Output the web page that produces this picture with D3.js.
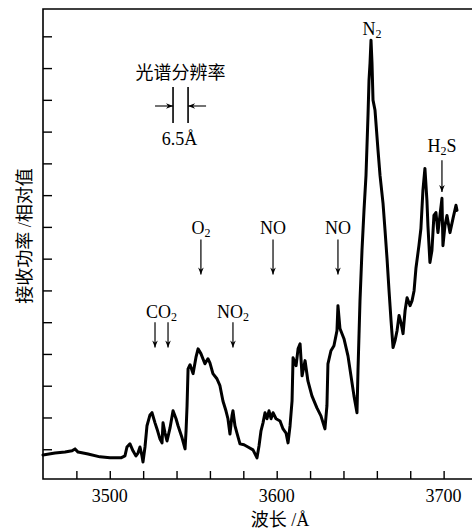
<!DOCTYPE html>
<html>
<head>
<meta charset="utf-8">
<script src="https://cdn.jsdelivr.net/npm/d3@7"></script>
<style>
  body { margin: 0; background: #fff; }
  svg { display: block; font-family: "Liberation Serif", "Noto Sans CJK SC", serif; }
</style>
</head>
<body>
<div id="chart"></div>
<script>
const width = 472, height = 531;
const margin = {top: 9, right: 0, bottom: 52, left: 43};

// wavelength (Å) and relative absorbed power
const wavelength = [
  3460.0, 3467.2, 3473.2, 3477.4, 3479.2, 3481.0, 3487.0, 3494.1, 3500.1, 3506.7,
  3509.1, 3510.3, 3512.1, 3513.9, 3515.7, 3516.9, 3518.1, 3519.3, 3519.9, 3521.1,
  3522.3, 3524.1, 3525.3, 3527.1, 3528.3, 3530.1, 3531.3, 3531.9, 3533.1, 3534.3,
  3536.1, 3537.9, 3539.7, 3540.9, 3543.3, 3545.1, 3545.7, 3546.3, 3546.9, 3548.1,
  3549.9, 3551.7, 3552.9, 3554.6, 3557.0, 3558.8, 3560.0, 3561.8, 3564.2, 3566.0,
  3567.8, 3569.6, 3570.8, 3572.0, 3573.2, 3573.8, 3575.0, 3576.2, 3578.0, 3580.4,
  3582.8, 3585.8, 3588.2, 3589.4, 3590.6, 3591.8, 3593.0, 3594.2, 3595.4, 3596.6,
  3597.8, 3599.6, 3602.0, 3603.8, 3605.6, 3606.8, 3608.0, 3609.2, 3609.8, 3611.6,
  3612.8, 3614.0, 3615.2, 3617.0, 3618.7, 3621.1, 3624.1, 3626.5, 3628.9, 3630.1,
  3630.7, 3632.5, 3634.3, 3636.1, 3636.7, 3637.9, 3640.3, 3642.7, 3644.5, 3646.3,
  3648.1, 3648.7, 3649.9, 3651.1, 3652.3, 3653.5, 3654.7, 3655.3, 3655.9, 3656.5,
  3657.1, 3657.7, 3658.9, 3660.7, 3661.9, 3663.7, 3664.9, 3666.1, 3667.3, 3668.5,
  3669.7, 3670.9, 3672.1, 3673.3, 3674.5, 3675.7, 3676.9, 3678.1, 3679.9, 3681.1,
  3682.3, 3683.4, 3685.2, 3686.4, 3687.6, 3688.8, 3690.0, 3690.6, 3691.8, 3693.0,
  3694.2, 3695.4, 3696.6, 3697.8, 3699.0, 3699.6, 3700.8, 3702.0, 3703.8, 3705.6,
  3707.4, 3708.0
];
const power = [
  0.82, 0.88, 0.91, 0.95, 1.01, 0.91, 0.85, 0.76, 0.73, 0.73,
  0.79, 1.07, 1.17, 0.95, 0.79, 0.88, 1.07, 0.79, 0.60, 1.07,
  1.74, 2.08, 2.15, 1.83, 1.64, 1.32, 1.20, 1.83, 1.51, 1.26,
  1.67, 2.21, 1.96, 1.74, 1.36, 1.01, 1.58, 2.37, 3.53, 3.66,
  3.38, 3.91, 4.16, 4.01, 3.69, 3.85, 3.72, 3.38, 3.22, 3.00,
  2.52, 2.21, 1.96, 1.48, 2.05, 2.21, 1.74, 1.51, 1.17, 1.14,
  1.07, 0.98, 0.73, 1.10, 1.58, 1.83, 2.15, 1.96, 2.21, 1.96,
  2.15, 1.96, 1.89, 1.64, 1.51, 1.20, 1.74, 2.52, 3.88, 3.63,
  4.16, 4.32, 3.31, 3.79, 3.15, 2.68, 2.30, 2.05, 1.64, 2.37,
  3.69, 4.10, 4.26, 4.73, 5.52, 4.80, 4.48, 3.94, 3.31, 2.68,
  2.15, 3.47, 5.68, 7.26, 8.52, 9.62, 11.51, 12.62, 13.15, 13.88,
  13.15, 11.99, 11.67, 10.41, 9.62, 8.74, 7.89, 7.00, 5.99, 5.05,
  4.20, 4.42, 4.73, 5.21, 4.98, 4.64, 5.36, 5.77, 5.52, 5.68,
  5.99, 6.69, 7.41, 7.95, 9.15, 9.84, 8.83, 8.04, 6.88, 7.26,
  8.36, 8.45, 7.82, 8.36, 8.90, 7.41, 8.04, 8.36, 7.82, 8.26,
  8.68, 8.52
];

const xTickValues = d3.range(3480, 3701, 20);
const xTickLabels = [3500, 3600, 3700];
const yTickValues = d3.range(1, 15);

// band labels: text, arrow wavelengths, label baseline, arrow top / tip (power units)
const bandLabels = ["CO", "O", "NO", "NO", "NO", "N", "H"];
const bandSubs = ["2", "2", "2", "", "", "2", "2"];
const bandTails = ["", "", "", "", "", "", "S"];
const bandX = [3531, 3554.6, 3573.8, 3597.8, 3636.7, 3657.1, 3699.0];
const bandArrows = [[3527.1, 3534.9], [3554.6], [3573.8], [3597.8], [3636.7], [], [3699.0]];
const bandTextY = [5.14, 7.79, 5.14, 7.79, 7.79, 14.04, 10.35];
const bandArrowTop = [5.0, 7.6, 5.0, 7.6, 7.6, 0, 10.1];
const bandArrowTip = [4.2, 6.5, 4.2, 6.5, 6.5, 0, 9.1];

const svg = d3.select("#chart").append("svg")
  .attr("width", width)
  .attr("height", height);

const x = d3.scaleLinear().domain([3460, 3717]).range([margin.left, width - margin.right]);
const y = d3.scaleLinear().domain([0, 14.86]).range([height - margin.bottom + 2, margin.top]);
const yBottom = height - margin.bottom;

const defs = svg.append("defs");
defs.append("marker")
  .attr("id", "head")
  .attr("viewBox", "0 0 10 10")
  .attr("refX", 10).attr("refY", 5)
  .attr("markerWidth", 10).attr("markerHeight", 7)
  .attr("markerUnits", "userSpaceOnUse")
  .attr("orient", "auto")
  .append("path")
  .attr("d", "M0,1 L10,5 L0,9 L3,5 Z")
  .attr("fill", "#000");

// frame: left, top and bottom lines
svg.append("path")
  .attr("d", `M${width},${margin.top}H${margin.left}V${yBottom}H${width}`)
  .attr("fill", "none")
  .attr("stroke", "#000")
  .attr("stroke-width", 1.6);

// x ticks point inward
const xAxis = d3.axisTop(x)
  .tickValues(xTickValues)
  .tickSize(8)
  .tickFormat("");
svg.append("g")
  .attr("transform", `translate(0,${yBottom})`)
  .call(xAxis)
  .call(g => g.select(".domain").remove())
  .call(g => g.selectAll("line").attr("stroke-width", 1.4));

svg.append("g")
  .selectAll("text").data(xTickLabels)
  .join("text")
  .attr("x", d => x(d))
  .attr("y", 502)
  .attr("text-anchor", "middle")
  .attr("font-size", "18px")
  .text(d => d);

const yAxis = d3.axisRight(y)
  .tickValues(yTickValues)
  .tickSize(9)
  .tickFormat("");
svg.append("g")
  .attr("transform", `translate(${margin.left},0)`)
  .call(yAxis)
  .call(g => g.select(".domain").remove())
  .call(g => g.selectAll("line").attr("stroke-width", 1.4));

// axis titles
svg.append("text")
  .attr("x", 280)
  .attr("y", 526)
  .attr("text-anchor", "middle")
  .attr("font-size", "18px")
  .text("波长 /Å");

svg.append("text")
  .attr("transform", "translate(31,236) rotate(-90)")
  .attr("text-anchor", "middle")
  .attr("font-size", "18px")
  .text("接收功率 /相对值");

// spectrum trace
const points = wavelength.map((w, i) => [w, power[i]]);
const line = d3.line().x(d => x(d[0])).y(d => y(d[1]));
svg.append("path")
  .datum(points)
  .attr("d", line)
  .attr("fill", "none")
  .attr("stroke", "#000")
  .attr("stroke-width", 3)
  .attr("stroke-linejoin", "round")
  .attr("stroke-linecap", "round");

// band labels and arrows
bandLabels.forEach((lab, i) => {
  const t = svg.append("text")
    .attr("x", x(bandX[i]))
    .attr("y", y(bandTextY[i]))
    .attr("text-anchor", "middle")
    .attr("font-size", "18px");
  t.append("tspan").text(lab);
  if (bandSubs[i]) t.append("tspan").attr("font-size", "12px").attr("dy", 3).text(bandSubs[i]);
  if (bandTails[i]) t.append("tspan").attr("dy", -3).text(bandTails[i]);
  bandArrows[i].forEach(w => {
    svg.append("line")
      .attr("x1", x(w)).attr("x2", x(w))
      .attr("y1", y(bandArrowTop[i])).attr("y2", y(bandArrowTip[i]))
      .attr("stroke", "#000")
      .attr("stroke-width", 1.2)
      .attr("marker-end", "url(#head)");
  });
});

// spectral resolution marker
const resLeft = 3537.9, resRight = 3546.9;
svg.append("text")
  .attr("x", x((resLeft + resRight) / 2))
  .attr("y", 79)
  .attr("text-anchor", "middle")
  .attr("font-size", "18px")
  .text("光谱分辨率");

[resLeft, resRight].forEach(w => {
  svg.append("line")
    .attr("x1", x(w)).attr("x2", x(w))
    .attr("y1", 87).attr("y2", 123)
    .attr("stroke", "#000")
    .attr("stroke-width", 1.6);
});
svg.append("line")
  .attr("x1", x(resLeft) - 18).attr("x2", x(resLeft))
  .attr("y1", 106).attr("y2", 106)
  .attr("stroke", "#000").attr("stroke-width", 1.1)
  .attr("marker-end", "url(#head)");
svg.append("line")
  .attr("x1", x(resRight) + 18).attr("x2", x(resRight))
  .attr("y1", 106).attr("y2", 106)
  .attr("stroke", "#000").attr("stroke-width", 1.1)
  .attr("marker-end", "url(#head)");

svg.append("text")
  .attr("x", x((resLeft + resRight) / 2) - 1)
  .attr("y", 145)
  .attr("text-anchor", "middle")
  .attr("font-size", "18px")
  .text("6.5Å");
</script>
</body>
</html>
